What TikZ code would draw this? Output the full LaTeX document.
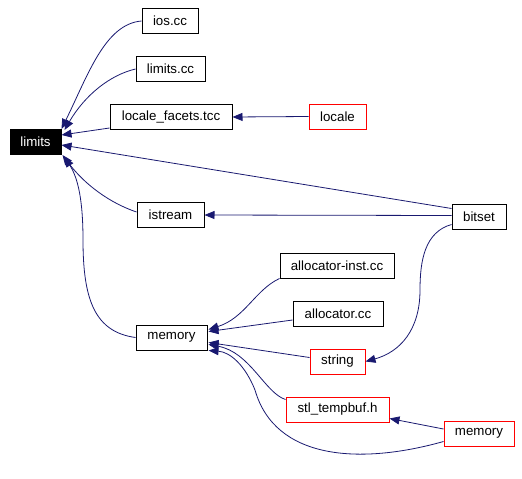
\documentclass[tikz,border=0pt]{standalone}
\usepackage{fontspec}
\setmainfont{Liberation Sans}
\usetikzlibrary{arrows.meta,calc}
\definecolor{edgeblue}{HTML}{191970}
\begin{document}
\begin{tikzpicture}[x=1pt,y=-1pt,
  box/.style={draw=black, line width=1pt, minimum height=25pt, inner sep=0pt, fill=white,
    font=\fontsize{13.3}{16}\selectfont},
  redbox/.style={box, draw=red},
  edge/.style={draw=edgeblue, line width=0.8pt, -{Triangle[length=10pt,width=8pt]}}
]
\useasboundingbox (0,0) rectangle (522,479);
\node[box, fill=black, text=white, minimum width=51pt] (limits) at (35.5,142) {limits};
\node[box, minimum width=56pt] (ios) at (170,21) {ios.cc};
\node[box, minimum width=69pt] (limitscc) at (170.5,69) {limits.cc};
\node[box, minimum width=122pt] (lft) at (171,117) {locale\_facets.tcc};
\node[box, minimum width=67pt] (istream) at (170.5,215) {istream};
\node[box, minimum width=71pt] (memL) at (171.5,337.5) {memory};
\node[redbox, minimum width=57pt] (locale) at (337.5,116.5) {locale};
\node[box, minimum width=54pt] (bitset) at (479,216.5) {bitset};
\node[box, minimum width=114pt] (ainst) at (337,265.5) {allocator-inst.cc};
\node[box, minimum width=90pt] (alloc) at (338,313.5) {allocator.cc};
\node[redbox, minimum width=55pt] (string) at (337.5,361.5) {string};
\node[redbox, minimum width=103pt] (tempbuf) at (337.5,409.5) {stl\_tempbuf.h};
\node[redbox, minimum width=70pt] (memR) at (479,433.5) {memory};

\draw[edge] (ios.west) .. controls (105,24) and (88,75) .. (limits.north east);
\draw[edge] (limitscc.west) .. controls (110,75) and (85,95) .. ($(limits.north east)+(3,1)$);
\draw[edge] ($(lft.south west)+(0,-2)$) -- ($(limits.east)+(0,-7)$);
\draw[edge] ($(bitset.west)+(0,-8)$) -- ($(limits.east)+(0,3)$);
\draw[edge] ($(istream.west)+(0,-3)$) .. controls (110,203) and (85,185) .. ($(limits.south east)+(1,0)$);
\draw[edge] (memL.west) .. controls (95,332) and (83,300) .. (83,240) .. controls (83,200) and (78,178) .. ($(limits.south east)+(3,2)$);
\draw[edge] (locale.west) -- (lft.east);
\draw[edge] ($(bitset.west)+(0,-1)$) -- (istream.east);
\draw[edge] ($(bitset.west)+(0,8)$) .. controls (425,232) and (420,260) .. (420,290) .. controls (420,330) and (400,352) .. (string.east);
\draw[edge] (ainst.south west) .. controls (255,290) and (245,318) .. ($(memL.east)+(1,-8)$);
\draw[edge] ($(alloc.west)+(0,6.5)$) -- ($(memL.east)+(1,-6)$);
\draw[edge] ($(string.west)+(0,-4)$) -- ($(memL.east)+(1,5)$);
\draw[edge] ($(tempbuf.west)+(0,-10)$) .. controls (265,393) and (250,352) .. ($(memL.east)+(1,7)$);
\draw[edge] ($(memR.west)+(0,8)$) .. controls (360,465) and (275,460) .. (255,390) .. controls (245,365) and (230,352) .. ($(memL.south east)+(1,0)$);
\draw[edge] ($(memR.west)+(0,-4.5)$) -- ($(tempbuf.south east)+(0,-4)$);
\end{tikzpicture}
\end{document}
